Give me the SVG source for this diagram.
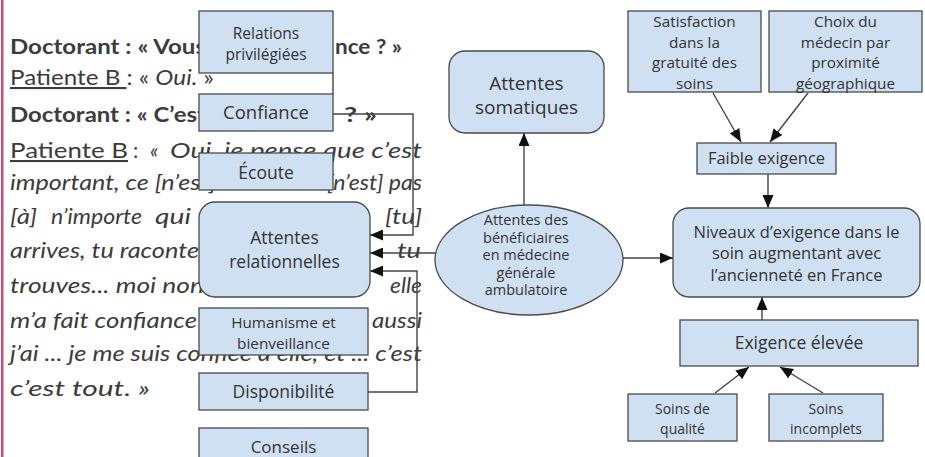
<svg xmlns="http://www.w3.org/2000/svg" width="925" height="457" viewBox="0 0 925 457">
<defs>
<marker id="ah" viewBox="0 0 13 11" refX="13" refY="5.5" markerWidth="13" markerHeight="11" markerUnits="userSpaceOnUse" orient="auto"><path d="M0,0 L13,5.5 L0,11 z" fill="#111"/></marker>
<style>
.bx{fill:#cfe0f2;stroke:#4a4a4a;stroke-width:1.3}
.t{font-family:"Open Sans","DejaVu Sans",sans-serif;fill:#333;text-anchor:middle}
.c{fill:none;stroke:#444;stroke-width:1.4}
.p{font-family:Lato,"Liberation Sans",sans-serif;font-size:21px;fill:#3c3c3c}
.b{font-weight:bold}
.i{font-style:italic}
.u{text-decoration:underline}
</style>
</defs>
<rect x="0" y="0" width="925" height="457" fill="#fff"/>
<rect x="1" y="0" width="2.5" height="457" fill="#d24b74"/>

<g id="quote">
<text class="p b" x="10" y="54" textLength="196" lengthAdjust="spacingAndGlyphs">Doctorant : « Vous</text>
<text class="p b" x="335" y="54" textLength="67" lengthAdjust="spacingAndGlyphs">nce ? »</text>
<text class="p" x="10" y="85" textLength="204" lengthAdjust="spacingAndGlyphs"><tspan class="u">Patiente B </tspan>: « <tspan class="i">Oui.</tspan> »</text>
<text class="p b" x="10" y="122" textLength="196" lengthAdjust="spacingAndGlyphs">Doctorant : « C’est</text>
<text class="p b" x="344" y="122" textLength="33" lengthAdjust="spacingAndGlyphs">? »</text>
<text class="p u" x="10" y="158" textLength="118" lengthAdjust="spacingAndGlyphs">Patiente B</text>
<text class="p" x="133" y="158">:</text>
<text class="p i" x="150" y="158">«</text>
<text class="p i" x="170" y="158" textLength="252" lengthAdjust="spacingAndGlyphs">Oui, je pense que c’est</text>
<text class="p i" x="10" y="190" textLength="206" lengthAdjust="spacingAndGlyphs">important, ce [n’est]</text>
<text class="p i" x="327" y="190" textLength="95" lengthAdjust="spacingAndGlyphs">[n’est] pas</text>
<text class="p i" x="10" y="224" textLength="27" lengthAdjust="spacingAndGlyphs">[à]</text>
<text class="p i" x="51" y="224" textLength="91" lengthAdjust="spacingAndGlyphs">n’importe</text>
<text class="p i" x="155" y="224" textLength="36" lengthAdjust="spacingAndGlyphs">qui</text>
<text class="p i" x="385" y="224" textLength="37" lengthAdjust="spacingAndGlyphs">[tu]</text>
<text class="p i" x="10" y="258" textLength="189" lengthAdjust="spacingAndGlyphs">arrives, tu raconte</text>
<text class="p i" x="397" y="258" textLength="24" lengthAdjust="spacingAndGlyphs">tu</text>
<text class="p i" x="10" y="293" textLength="194" lengthAdjust="spacingAndGlyphs">trouves... moi non</text>
<text class="p i" x="390" y="293" textLength="32" lengthAdjust="spacingAndGlyphs">elle</text>
<text class="p i" x="10" y="328" textLength="187" lengthAdjust="spacingAndGlyphs">m’a fait confiance</text>
<text class="p i" x="372" y="328" textLength="50" lengthAdjust="spacingAndGlyphs">aussi</text>
<text class="p i" x="10" y="361" textLength="412" lengthAdjust="spacingAndGlyphs">j’ai ... je me suis confiée à elle, et ... c’est</text>
<text class="p i" x="10" y="396" textLength="140" lengthAdjust="spacingAndGlyphs">c’est tout. »</text>
</g>

<g id="connectors">
<line class="c" x1="333" y1="73" x2="333" y2="94"/>
<path class="c" d="M333,114 H413 V235 H370" marker-end="url(#ah)"/>
<path class="c" d="M436,253 H370" marker-end="url(#ah)"/>
<path class="c" d="M368,392 H417 V271 H370" marker-end="url(#ah)"/>
<path class="c" d="M524,206 V133" marker-end="url(#ah)"/>
<path class="c" d="M623,258 H673" marker-end="url(#ah)"/>
<path class="c" d="M713,93 L741,142" marker-end="url(#ah)"/>
<path class="c" d="M808,93 L770,142" marker-end="url(#ah)"/>
<path class="c" d="M768,174 V208" marker-end="url(#ah)"/>
<path class="c" d="M762,320 V297" marker-end="url(#ah)"/>
<path class="c" d="M715,393 L749,367" marker-end="url(#ah)"/>
<path class="c" d="M823,393 L780,367" marker-end="url(#ah)"/>
</g>

<g id="n-relations">
<rect class="bx" x="199" y="11" width="134" height="62"/>
<text class="t" x="266" y="39" font-size="15.5">Relations</text>
<text class="t" x="266" y="60" font-size="15.5">privilégiées</text>
</g>
<g id="n-confiance">
<rect class="bx" x="199" y="94" width="134" height="37"/>
<text class="t" x="266" y="119" font-size="18.5">Confiance</text>
</g>
<g id="n-ecoute">
<rect class="bx" x="199" y="153" width="134" height="37"/>
<text class="t" x="266" y="179" font-size="17.5">Écoute</text>
</g>
<g id="n-relationnelles">
<rect class="bx" x="199" y="202" width="171" height="95" rx="16"/>
<text class="t" x="284.5" y="244" font-size="17.5">Attentes</text>
<text class="t" x="284.5" y="268" font-size="17.5">relationnelles</text>
</g>
<g id="n-humanisme">
<rect class="bx" x="199" y="308" width="169" height="47"/>
<text class="t" x="283.5" y="327.5" font-size="15.3">Humanisme et</text>
<text class="t" x="283.5" y="348.5" font-size="15.3">bienveillance</text>
</g>
<g id="n-disponibilite">
<rect class="bx" x="199" y="373" width="169" height="37"/>
<text class="t" x="283.5" y="398" font-size="17.5">Disponibilité</text>
</g>
<g id="n-conseils">
<rect class="bx" x="199" y="428" width="169" height="37"/>
<text class="t" x="283.5" y="453" font-size="17">Conseils</text>
</g>
<g id="n-somatiques">
<rect class="bx" x="449" y="51" width="155" height="82" rx="16"/>
<text class="t" x="526.5" y="90" font-size="19">Attentes</text>
<text class="t" x="526.5" y="114" font-size="19">somatiques</text>
</g>
<g id="n-beneficiaires">
<ellipse class="bx" cx="529" cy="260" rx="94" ry="55"/>
<text class="t" x="526" y="225" font-size="14.5">Attentes des</text>
<text class="t" x="526" y="242.5" font-size="14.5">bénéficiaires</text>
<text class="t" x="526" y="260" font-size="14.5">en médecine</text>
<text class="t" x="526" y="277.5" font-size="14.5">générale</text>
<text class="t" x="526" y="295" font-size="14.5">ambulatoire</text>
</g>
<g id="n-satisfaction">
<rect class="bx" x="628" y="11" width="133" height="81"/>
<text class="t" x="694.5" y="27" font-size="15.3">Satisfaction</text>
<text class="t" x="694.5" y="47.7" font-size="15.3">dans la</text>
<text class="t" x="694.5" y="68.4" font-size="15.3">gratuité des</text>
<text class="t" x="694.5" y="89" font-size="15.3">soins</text>
</g>
<g id="n-choix">
<rect class="bx" x="769" y="11" width="153" height="81"/>
<text class="t" x="845.5" y="27" font-size="15.3">Choix du</text>
<text class="t" x="845.5" y="47.7" font-size="15.3">médecin par</text>
<text class="t" x="845.5" y="68.4" font-size="15.3">proximité</text>
<text class="t" x="845.5" y="89" font-size="15.3">géographique</text>
</g>
<g id="n-faible">
<rect class="bx" x="697" y="143" width="139" height="31"/>
<text class="t" x="766.5" y="164" font-size="16.5">Faible exigence</text>
</g>
<g id="n-niveaux">
<rect class="bx" x="673" y="208" width="247" height="89" rx="16"/>
<text class="t" x="796.5" y="238" font-size="16.5">Niveaux d’exigence dans le</text>
<text class="t" x="796.5" y="259" font-size="16.5">soin augmentant avec</text>
<text class="t" x="796.5" y="281" font-size="16.5">l’ancienneté en France</text>
</g>
<g id="n-elevee">
<rect class="bx" x="680" y="320" width="238" height="46"/>
<text class="t" x="799" y="349" font-size="17.5">Exigence élevée</text>
</g>
<g id="n-qualite">
<rect class="bx" x="628" y="394" width="109" height="47"/>
<text class="t" x="682.5" y="414" font-size="14">Soins de</text>
<text class="t" x="682.5" y="433.5" font-size="14">qualité</text>
</g>
<g id="n-incomplets">
<rect class="bx" x="769" y="394" width="114" height="47"/>
<text class="t" x="826" y="414" font-size="14">Soins</text>
<text class="t" x="826" y="433.5" font-size="14">incomplets</text>
</g>
</svg>
